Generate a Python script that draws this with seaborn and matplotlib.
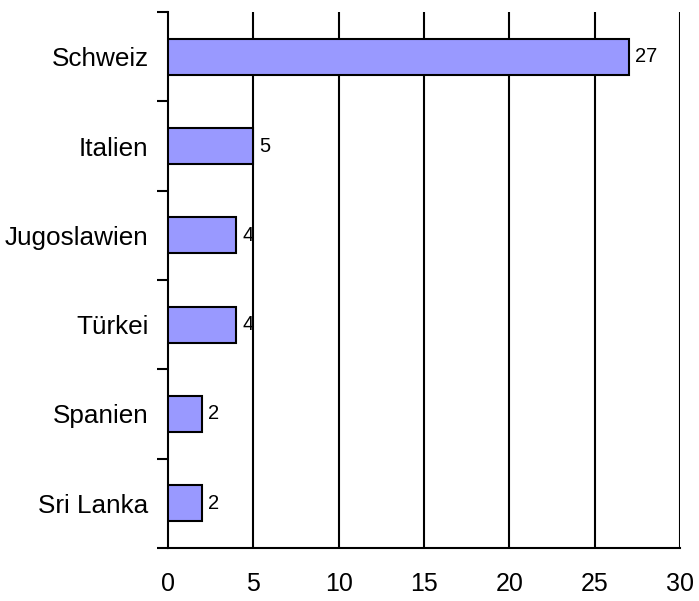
import numpy as np
import pandas as pd
import seaborn as sns
import matplotlib.pyplot as plt
from matplotlib.ticker import FixedLocator

# --- dane ---
laender = ['Schweiz', 'Italien', 'Jugoslawien', 'Türkei', 'Spanien', 'Sri Lanka']
anzahl = [27, 5, 4, 4, 2, 2]
x_ticks = [0, 5, 10, 15, 20, 25, 30]

df = pd.DataFrame({'land': laender, 'anzahl': anzahl})

sns.set_style('white')
plt.rcParams['font.family'] = ['Liberation Sans', 'DejaVu Sans']
plt.rcParams['text.color'] = 'black'
plt.rcParams['xtick.labelcolor'] = 'black'
plt.rcParams['ytick.labelcolor'] = 'black'

fig = plt.figure(figsize=(6.99, 6.01), dpi=100)
ax = fig.add_axes([0.2403, 0.0882, 0.7325, 0.8918])

sns.barplot(data=df, x='anzahl', y='land', orient='h', color='#9999FF',
            saturation=1, width=0.4, edgecolor='black', linewidth=1.5, ax=ax, zorder=3)

# linie siatki
for v in x_ticks[1:]:
    ax.axvline(v, color='black', lw=1.5, zorder=1)

for i, v in enumerate(anzahl):
    ax.text(v + 0.35, i, str(v), va='center', ha='left', fontsize=14.5, color='black', zorder=4)

ax.set_xlim(0, 30)
ax.set_ylim(len(laender) - 0.5, -0.5)
ax.set_xticks(x_ticks)
ax.set_xlabel('')
ax.set_ylabel('')
ax.tick_params(axis='x', direction='inout', length=10, width=1.5, labelsize=18, pad=12, color='black')
ax.tick_params(axis='y', which='major', length=0, labelsize=18.8, pad=14)
ax.yaxis.set_minor_locator(FixedLocator(np.arange(-0.5, len(laender), 1.0)))
ax.tick_params(axis='y', which='minor', direction='out', length=8, width=1.5, color='black', left=True)

for s in ['top', 'right']:
    ax.spines[s].set_visible(False)
for s in ['left', 'bottom']:
    ax.spines[s].set_color('black')
    ax.spines[s].set_linewidth(1.5)

plt.savefig('out.png', dpi=100)
